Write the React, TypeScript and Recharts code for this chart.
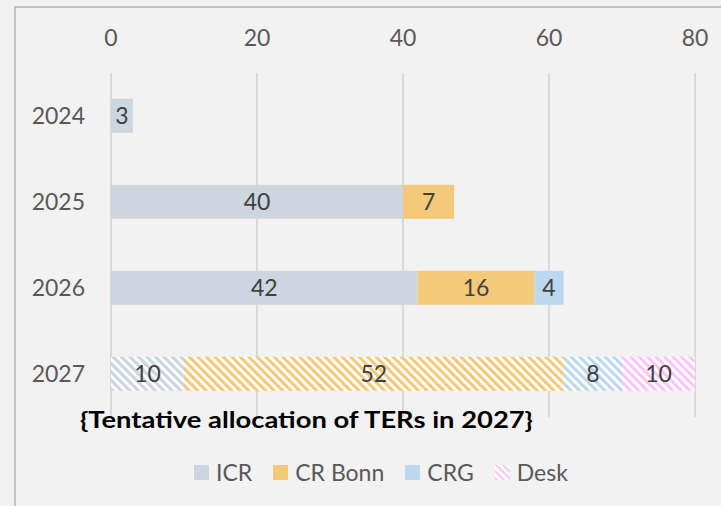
import React from 'react';
import { BarChart, Bar, XAxis, YAxis, CartesianGrid, Legend, LabelList, Cell } from 'recharts';

const years = ['2024', '2025', '2026', '2027'];
const icrValues = [3, 40, 42, 10];
const crBonnValues = [0, 7, 16, 52];
const crgValues = [0, 0, 4, 8];
const deskValues = [0, 0, 0, 10];
const xTicks = [0, 20, 40, 60, 80];
const tentativeYear = '2027';
const titleText = '{Tentative allocation of TERs in 2027}';

const series = [
  { key: 'icr', name: 'ICR', color: '#CDD5DF', values: icrValues, hatchedLegend: false },
  { key: 'crBonn', name: 'CR Bonn', color: '#F4C97A', values: crBonnValues, hatchedLegend: false },
  { key: 'crg', name: 'CRG', color: '#BDD7EE', values: crgValues, hatchedLegend: false },
  { key: 'desk', name: 'Desk', color: '#F9C6F9', values: deskValues, hatchedLegend: true },
];

const data = years.map((year, i) => {
  const row: Record<string, string | number> = { year };
  series.forEach((s) => {
    row[s.key] = s.values[i];
  });
  return row;
});

const FONT = 'Lato, "Open Sans", sans-serif';

const LegendContent = () => (
  <div style={{ display: 'flex', alignItems: 'center', paddingLeft: 194, fontFamily: FONT, fontSize: 23, color: '#595959' }}>
    {series.map((s) => (
      <div key={s.key} style={{ display: 'flex', alignItems: 'center', marginRight: 21 }}>
        <span
          style={{
            display: 'inline-block',
            width: 15,
            height: 15,
            marginRight: 7,
            background: s.hatchedLegend
              ? `repeating-linear-gradient(45deg, ${s.color} 0px, ${s.color} 2.5px, #ffffff 2.5px, #ffffff 5px)`
              : s.color,
          }}
        />
        <span>{s.name}</span>
      </div>
    ))}
  </div>
);

export default function App() {
  return (
    <div style={{ position: 'fixed', left: 0, top: 0, width: 721, height: 506, overflow: 'hidden', background: '#F2F2F2', fontFamily: FONT }}>
      <div style={{ position: 'absolute', left: 14, top: 6, width: 800, height: 600, border: '2px solid #C3C3C3', boxSizing: 'border-box' }} />
      <div style={{ position: 'absolute', left: 0, top: 0 }}>
        <BarChart
          width={721}
          height={506}
          data={data}
          layout="vertical"
          margin={{ top: 33, right: 26, bottom: 89, left: 14 }}
          barCategoryGap="30%"
        >
          <defs>
            {series.map((s) => (
              <pattern
                key={s.key}
                id={`hatch-${s.key}`}
                patternUnits="userSpaceOnUse"
                width={6}
                height={6}
                patternTransform="rotate(-45)"
              >
                <rect x={0} y={0} width={6} height={6} fill="#ffffff" />
                <rect x={0} y={0} width={3.2} height={6} fill={s.color} />
              </pattern>
            ))}
          </defs>
          <CartesianGrid horizontal={false} stroke="#D9D9D9" strokeWidth={2} />
          <XAxis
            type="number"
            orientation="top"
            domain={[0, 80]}
            ticks={xTicks}
            height={40}
            axisLine={false}
            tickLine={false}
            tickSize={0}
            tickMargin={27}
            tick={{ fill: '#595959', fontSize: 23, fontFamily: FONT }}
            interval={0}
          />
          <YAxis
            type="category"
            dataKey="year"
            width={97}
            axisLine={false}
            tickLine={false}
            tickSize={0}
            tickMargin={26}
            tick={{ fill: '#595959', fontSize: 23, fontFamily: FONT }}
          />
          {series.map((s) => (
            <Bar key={s.key} dataKey={s.key} name={s.name} stackId="a" fill={s.color} isAnimationActive={false}>
              {data.map((row) => (
                <Cell key={`${s.key}-${row.year}`} fill={row.year === tentativeYear ? `url(#hatch-${s.key})` : s.color} />
              ))}
              <LabelList
                dataKey={s.key}
                position="center"
                formatter={(v: any) => (v ? v : '')}
                style={{ fill: '#404040', fontSize: 23, fontFamily: FONT }}
              />
            </Bar>
          ))}
          <Legend
            layout="horizontal"
            verticalAlign="middle"
            align="center"
            content={<LegendContent />}
            wrapperStyle={{ top: 458, left: 0, width: 721 }}
          />
          <text
            x={80}
            y={428}
            fontFamily={FONT}
            fontWeight="bold"
            fontSize={22}
            fill="#000000"
            textLength={453}
            lengthAdjust="spacingAndGlyphs"
          >
            {titleText}
          </text>
        </BarChart>
      </div>
    </div>
  );
}
